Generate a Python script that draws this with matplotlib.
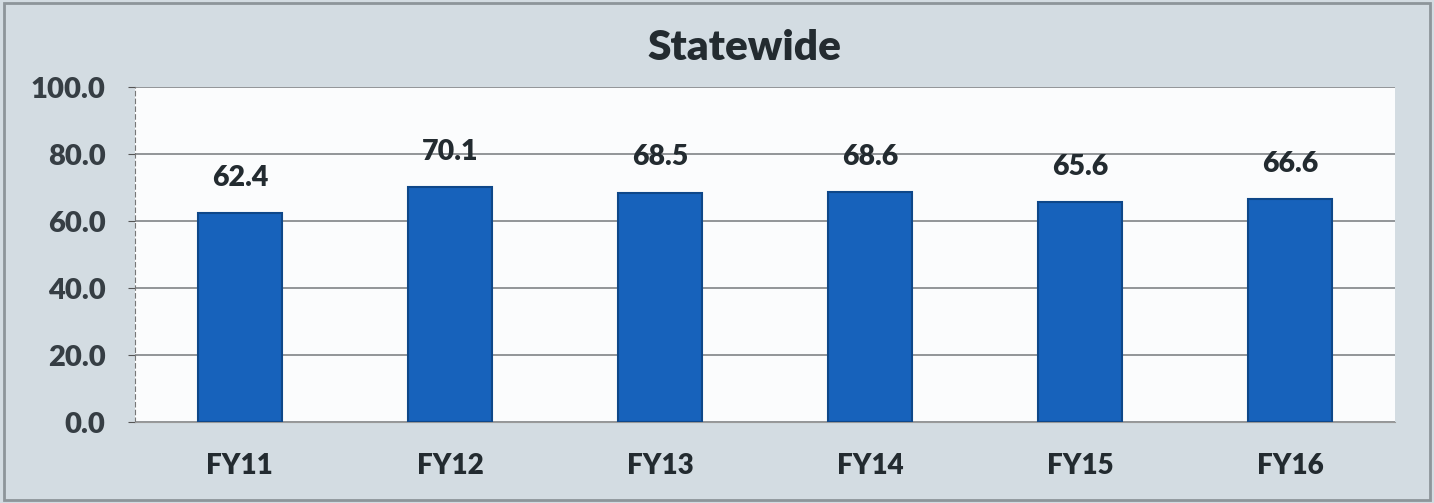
import matplotlib
matplotlib.use("Agg")
import matplotlib.pyplot as plt
import numpy as np

categories = ["FY11", "FY12", "FY13", "FY14", "FY15", "FY16"]
values = [62.4, 70.1, 68.5, 68.6, 65.6, 66.6]
yticks = [0, 20, 40, 60, 80, 100]
title = "Statewide"

plt.rcParams['font.family'] = ['Lato', 'DejaVu Sans']
txt = "#232b30"
W = "heavy"

fig = plt.figure(figsize=(14.34, 5.03), dpi=100)
fig.patch.set_facecolor("#d3dce2")
ax = fig.add_axes([0.094, 0.161, 0.879, 0.666])
ax.set_facecolor("#fbfcfd")

x = np.arange(len(categories))
ax.bar(x, values, width=0.4, color="#1762bb", edgecolor="#0e4789", linewidth=1.5, zorder=3)
for xi, v in zip(x, values):
    ax.text(xi, v + 10.5, f"{v:.1f}", ha="center", va="center", fontsize=20.5,
            fontweight=W, color=txt, zorder=4)

ax.set_xlim(-0.5, len(categories) - 0.5)
ax.set_ylim(0, 100)
ax.set_yticks(yticks)
ax.set_yticklabels([f"{t:.1f}" for t in yticks], fontsize=21, fontweight=W, color="#363e44")
ax.set_xticks(x)
ax.set_xticklabels(categories, fontsize=20, fontweight=W, color=txt)
ax.yaxis.grid(True, color="#8a8d90", linewidth=1.3, zorder=0)
ax.set_axisbelow(True)
ax.tick_params(axis="x", length=0, pad=22)
ax.tick_params(axis="y", length=5, color="#555", pad=16)
for s in ["top", "right"]:
    ax.spines[s].set_visible(False)
ax.spines["left"].set_color("#777")
ax.spines["left"].set_linestyle((0, (4, 3)))
ax.spines["bottom"].set_color("#999")

fig.text(0.519, 0.905, title, ha="center", va="center", fontsize=30.5, fontweight=W, color=txt)
border = plt.Rectangle((0.003, 0.006), 0.994, 0.988, transform=fig.transFigure,
                       fill=False, edgecolor="#8d959a", linewidth=2)
fig.patches.append(border)

fig.savefig("out.png", dpi=100, facecolor=fig.get_facecolor())
